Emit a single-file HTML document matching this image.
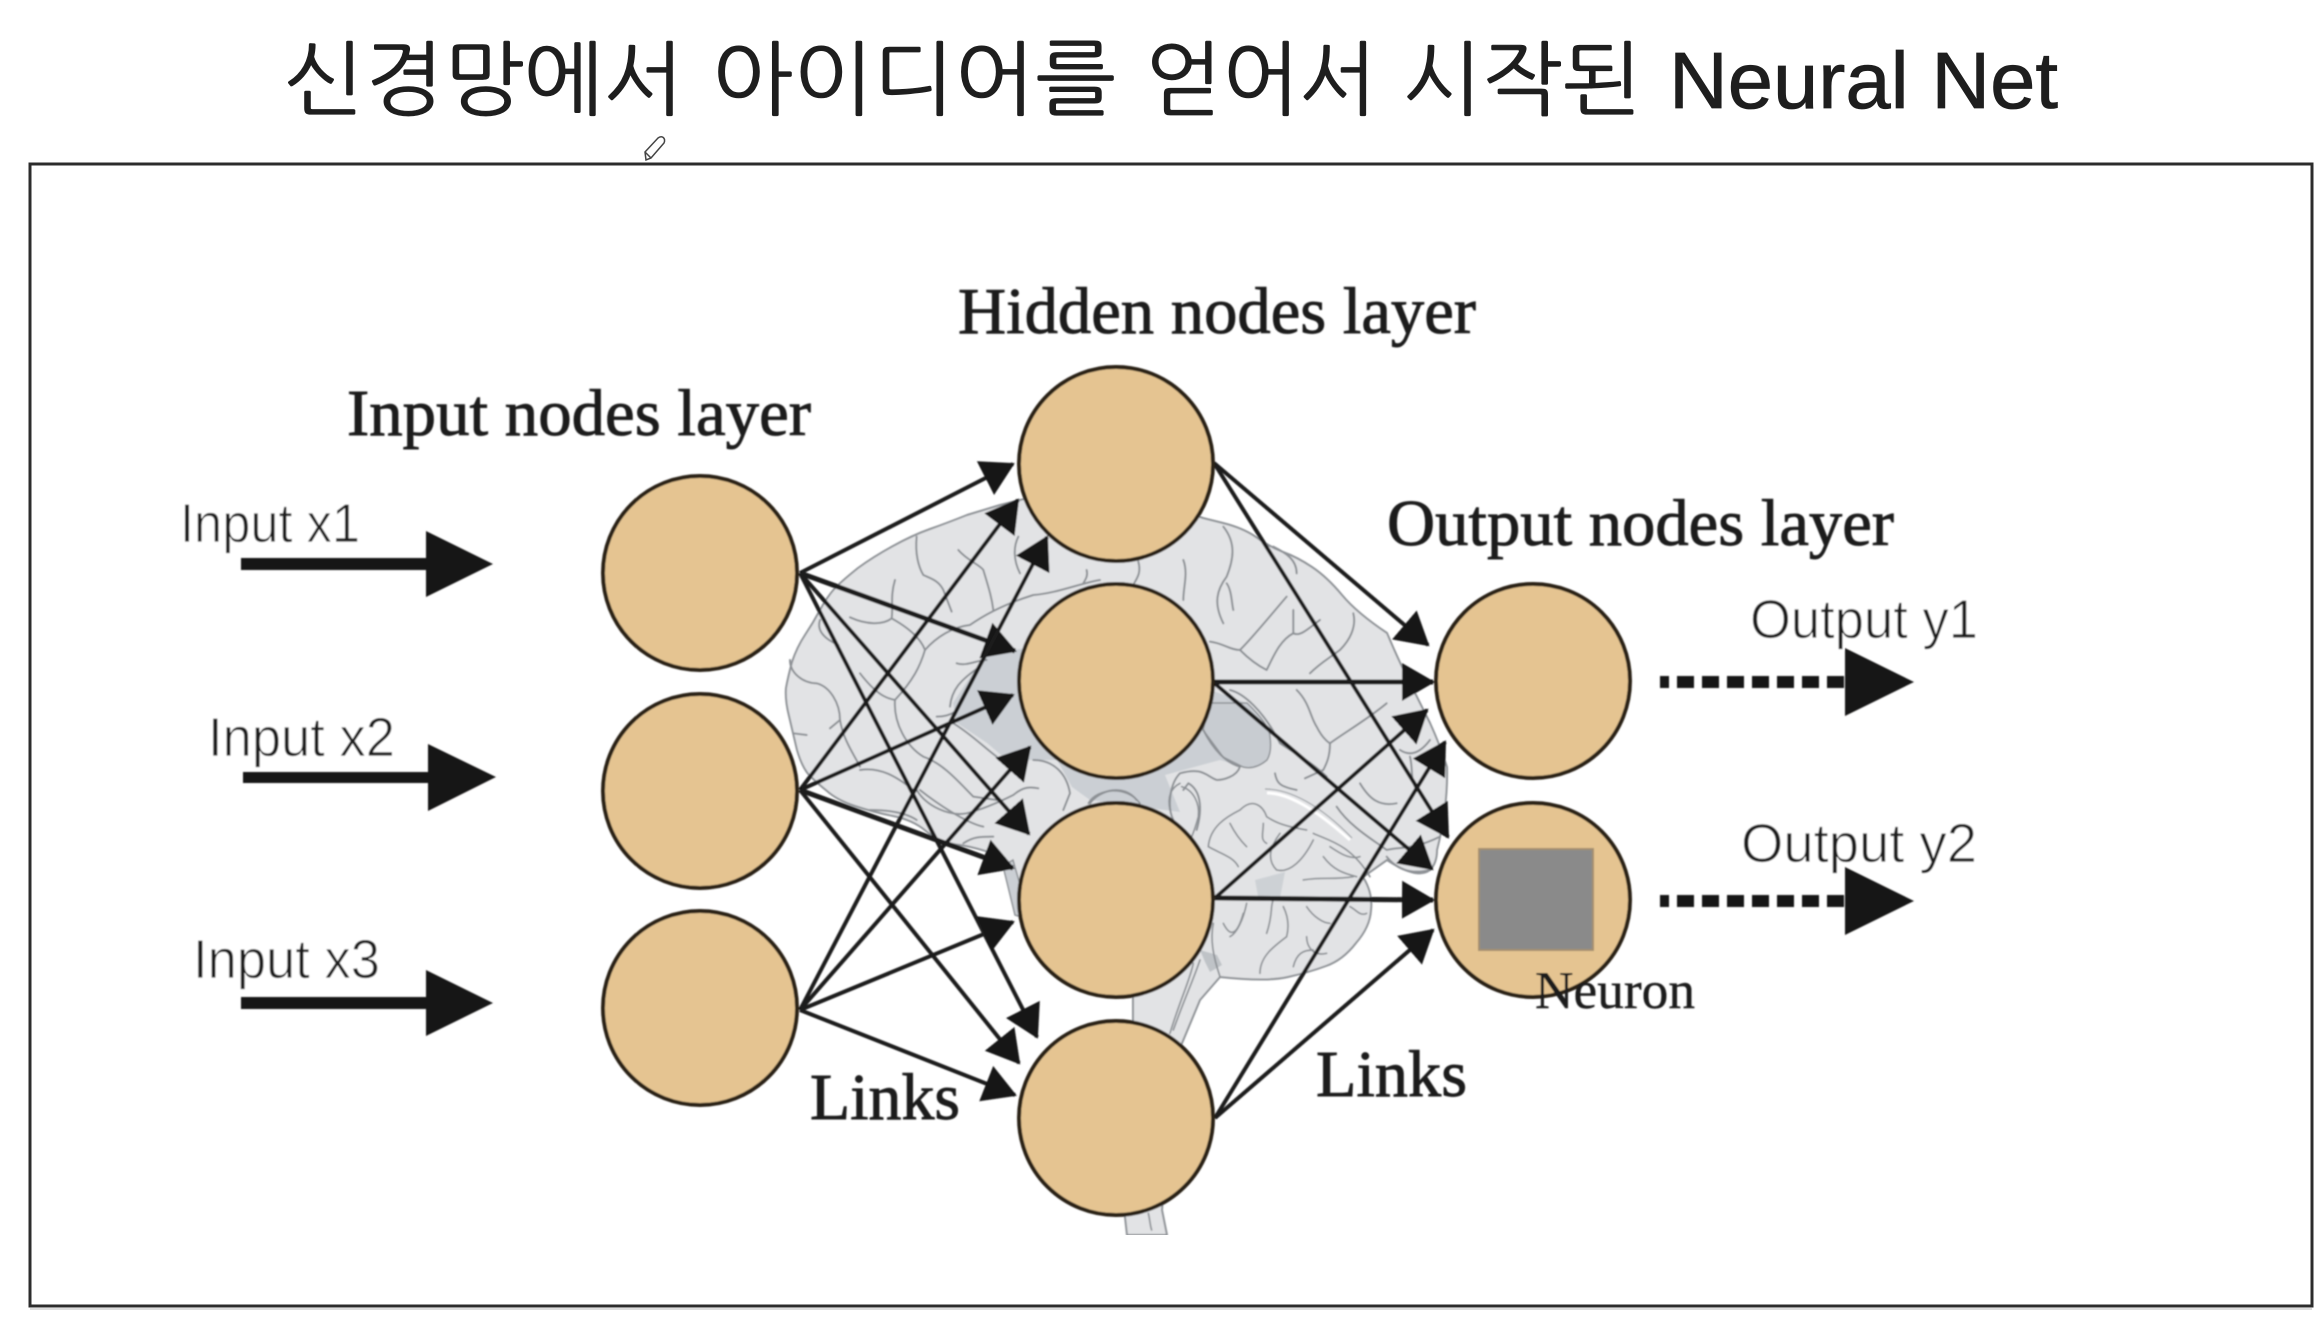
<!DOCTYPE html>
<html><head><meta charset="utf-8"><style>html,body{margin:0;padding:0;background:#fff}svg{display:block}</style></head>
<body>
<svg xmlns="http://www.w3.org/2000/svg" width="2322" height="1326" viewBox="0 0 2322 1326">
<defs>
<marker id="a" markerUnits="userSpaceOnUse" markerWidth="36" markerHeight="40" refX="31" refY="19" orient="auto"><path d="M0,0 L33,19 L0,38 Z" fill="#151515"/></marker>
<filter id="s" x="0" y="0" width="100%" height="100%"><feGaussianBlur stdDeviation="0.7"/></filter>
</defs>
<rect width="2322" height="1326" fill="#fff"/>

<g fill="#1e1e1e" stroke="#1e1e1e" stroke-width="0.7" font-size="81" font-family="'NanumGothic','Noto Sans CJK KR','Liberation Sans',sans-serif">
<text x="284" y="108" textLength="400" lengthAdjust="spacingAndGlyphs">신경망에서</text>
<text x="712" y="108" textLength="404" lengthAdjust="spacingAndGlyphs">아이디어를</text>
<text x="1145" y="108" textLength="232" lengthAdjust="spacingAndGlyphs">얻어서</text>
<text x="1402" y="108" textLength="240" lengthAdjust="spacingAndGlyphs">시작된</text>
</g>
<text x="1669" y="108" font-size="80" fill="#1e1e1e" stroke="#1e1e1e" stroke-width="0.8" font-family="'Liberation Sans',sans-serif" textLength="389" lengthAdjust="spacingAndGlyphs">Neural Net</text>

<path d="M646,160 L645,152 L658,138 C662,135 666,138 664,143 L651,158 Z M645,152 L651,158" fill="#fff" stroke="#444" stroke-width="1.5"/>

<rect x="30" y="164" width="2282" height="1142" fill="#fff" stroke="#2c2c2c" stroke-width="3"/>
<line x1="30" y1="1309" x2="2312" y2="1309" stroke="#ddd" stroke-width="2"/>

<g filter="url(#s)">
<!-- brain body -->
<path d="M1000,505 L967,515 Q947,523 930,529 Q913,535 893,546 Q873,557 858,568 Q843,580 835,588 Q827,597 820,610 Q813,623 805,635 Q797,647 792,662 Q788,677 786,688 Q785,700 789,716 Q793,733 797,750 Q802,767 809,775 Q817,783 827,791 Q837,800 855,806 Q873,812 893,816 Q913,820 926,831 Q940,843 960,845 Q980,848 1005,858 L1005,873 L1017,905 L1060,960 L1133,997 L1133,1030 L1125,1217 L1127,1235 L1167,1235 L1162,1210 L1175,1060 L1200,1000 L1220,977 Q1267,982 1288,977 Q1310,972 1326,966 Q1343,960 1356,943 Q1370,927 1371,910 Q1373,893 1363,877 L1387,860 Q1417,880 1430,870 Q1437,863 1437,850 Q1448,807 1447,767 Q1440,745 1430,723 Q1417,697 1407,677 Q1397,657 1387,633 Q1357,613 1342,595 Q1327,577 1312,567 Q1297,557 1283,552 Q1270,547 1256,537 Q1243,528 1223,523 L1203,518 L1100,480 Z" fill="#e2e3e5" stroke="#8f9397" stroke-width="2" stroke-linejoin="round"/>
<!-- darker areas -->
<path d="M983,657 L953,703 L957,723 L987,743 L1007,760 L1057,760 L1072,787 L1090,800 L1180,812 L1165,775 L1220,760 L1243,767 L1267,760 L1270,737 L1247,703 L1210,690 L1100,640 L1010,650 Z" fill="#cbcfd4"/>
<path d="M1003,866 L1013,860 L1030,920 L1015,915 Z" fill="#cbcfd4" stroke="#8f9397" stroke-width="1.5"/>
<path d="M1210,703 L1247,703 Q1270,725 1270,737 Q1272,752 1267,760 Q1255,770 1243,767 L1223,757 L1203,730 Z" fill="#c8ccd1" stroke="#8f9397" stroke-width="1.5"/>
<path d="M1255,880 L1285,872 L1280,898 L1258,896 Z" fill="#cdd1d5"/>
<path d="M1200,950 L1217,955 L1222,965 L1210,972 L1205,962 Z" fill="#bfc3c7"/>

<g fill="none" stroke="#8d9195" stroke-linecap="round" stroke-linejoin="round">
<g transform="translate(780,490) scale(.3333)" stroke-width="6">
<path d="M410,140 C405,190 415,230 430,255 C450,265 475,270 490,300 L515,365"/>
<path d="M535,180 C560,210 600,225 610,240 C625,290 635,320 640,360"/>
<path d="M345,270 C330,320 340,350 335,385 C310,405 260,405 210,382"/>
<path d="M120,390 C110,420 130,445 175,465"/>
<path d="M335,385 C380,410 420,440 435,480 C420,530 400,570 345,630 C320,625 290,615 240,550"/>
<path d="M435,480 C470,440 520,410 570,405 C620,370 680,340 760,315 C830,310 900,280 960,270"/>
<path d="M30,510 C30,550 70,580 110,580 C150,590 180,640 180,690 L150,715"/>
<path d="M40,730 L80,735"/>
<path d="M180,690 C190,750 220,790 240,830"/>
<path d="M345,630 C340,700 380,770 430,800 C490,820 540,880 580,920 L650,930"/>
<path d="M410,900 C440,950 510,980 560,970 C600,960 640,945 700,915 C730,890 750,890 775,895"/>
<path d="M530,520 C560,530 590,510 620,510"/>
<path d="M715,140 C700,170 700,210 720,250"/>
<path d="M510,650 C515,600 540,570 600,530"/>
<path d="M470,680 C490,680 510,675 525,665"/>
<path d="M520,700 C570,730 610,770 650,800"/>
<path d="M760,810 C820,810 860,850 870,910 L850,960"/>
<path d="M920,240 C925,260 915,270 910,280"/>
<path d="M1075,215 C1085,250 1070,265 1060,285"/>
<path d="M930,940 C960,900 1030,880 1070,930"/>
<path d="M550,1060 C580,1040 600,1040 640,1040"/>
<path d="M270,960 C330,960 380,970 410,990"/>
<path d="M420,900 C470,940 560,1000 610,1010"/>
<path d="M240,840 C300,830 350,860 400,900"/>
</g>
<g transform="translate(1100,490) scale(.3333)" stroke-width="6">
<path d="M250,210 C265,250 250,290 250,330"/>
<path d="M370,110 C410,160 400,210 380,260 C350,300 340,340 370,400"/>
<path d="M380,280 C395,300 395,340 400,360"/>
<path d="M330,455 C370,460 390,480 420,480 C460,440 500,390 560,320"/>
<path d="M420,480 C450,510 480,530 500,540 C520,500 540,450 580,430 L580,360"/>
<path d="M580,430 C600,440 620,420 660,390"/>
<path d="M520,170 C560,190 590,210 590,250"/>
<path d="M760,370 C770,410 750,450 720,480 C680,510 660,520 630,550"/>
<path d="M590,600 C630,640 630,680 650,710 C670,750 690,760 690,760 C730,730 800,690 860,640"/>
<path d="M690,760 C690,800 680,820 670,840 L615,865"/>
<path d="M390,600 C430,610 490,660 540,760 C600,800 640,820 680,860"/>
<path d="M310,720 C340,780 380,820 420,830 C410,860 370,870 350,870 C320,860 310,830 240,850 C210,880 200,950 220,990"/>
<path d="M250,900 L265,880 C300,900 310,950 290,1020"/>
<path d="M525,850 C530,880 540,890 590,900"/>
<path d="M780,880 C810,930 840,950 890,940"/>
<path d="M710,950 C750,1010 820,1050 860,1080 C900,1070 940,1080 1020,1040"/>
<path d="M900,780 C930,800 960,790 990,750"/>
<path d="M930,800 C940,840 930,870 950,900"/>
<path d="M860,1100 C900,1150 950,1150 990,1140"/>
</g>
<g transform="translate(960,780) scale(.3333)" stroke-width="5">
<path d="M745,200 C750,140 800,110 840,90 C880,50 910,80 920,110 C950,130 980,140 1040,150"/>
<path d="M810,130 C830,170 850,190 860,200"/>
<path d="M745,200 C780,220 820,230 835,260"/>
<path d="M910,130 C910,160 900,180 920,190"/>
<path d="M960,160 C930,200 920,240 950,270 C990,280 1030,240 1060,180"/>
<path d="M1030,300 C1090,290 1120,300 1180,290"/>
<path d="M1090,230 C1120,270 1150,280 1190,290"/>
<path d="M1110,200 C1140,220 1170,240 1200,230"/>
<path d="M1060,160 C1100,180 1170,190 1230,290"/>
<path d="M790,430 C810,470 830,470 850,400"/>
<path d="M860,370 C850,420 830,460 810,470"/>
<path d="M920,460 C940,400 930,380 940,360"/>
<path d="M900,580 C900,530 940,500 980,470 C990,430 980,400 970,380"/>
<path d="M1040,380 C1060,410 1090,430 1110,430"/>
<path d="M1100,520 C1060,530 1040,500 1040,470"/>
<path d="M1170,380 C1190,390 1200,410 1220,400"/>
<path d="M1000,560 C1010,520 1030,510 1060,510"/>
<path d="M720,540 C700,600 680,640 640,750"/>
<path d="M700,550 C690,600 660,660 630,760"/>
<path d="M565,1300 C570,1320 570,1335 575,1350"/>
<path d="M385,70 C410,25 500,15 540,70"/>
<path d="M630,90 C620,40 640,20 660,10"/>
<path d="M665,20 C700,30 720,70 715,110 C710,130 700,160 695,170"/>
<path d="M780,590 C760,530 750,480 760,430"/>
</g>
</g>
<path d="M1267,793 C1287,793 1313,807 1350,840" fill="none" stroke="#fff" stroke-width="3"/>
<path d="M1265,789 C1290,789 1320,805 1352,838" fill="none" stroke="#a0a4a8" stroke-width="1.2"/>

<!-- connectors -->
<g fill="none" stroke="#1a1a1a" stroke-width="4">
<line x1="800" y1="573" x2="1013" y2="464" marker-end="url(#a)"/>
<line x1="800" y1="573" x2="1015" y2="651" marker-end="url(#a)" stroke-width="5"/>
<line x1="800" y1="573" x2="1029" y2="834" marker-end="url(#a)"/>
<line x1="800" y1="573" x2="1037" y2="1037" marker-end="url(#a)"/>
<line x1="800" y1="790" x2="1018" y2="500" marker-end="url(#a)"/>
<line x1="800" y1="790" x2="1013" y2="695" marker-end="url(#a)"/>
<line x1="800" y1="790" x2="1013" y2="868" marker-end="url(#a)" stroke-width="5"/>
<line x1="800" y1="790" x2="1019" y2="1063" marker-end="url(#a)"/>
<line x1="800" y1="1010" x2="1047" y2="537" marker-end="url(#a)"/>
<line x1="800" y1="1010" x2="1030" y2="747" marker-end="url(#a)"/>
<line x1="800" y1="1010" x2="1013" y2="922" marker-end="url(#a)"/>
<line x1="800" y1="1010" x2="1015" y2="1095" marker-end="url(#a)"/>
<line x1="1214" y1="463" x2="1428" y2="645" marker-end="url(#a)"/>
<line x1="1214" y1="463" x2="1448" y2="837" marker-end="url(#a)"/>
<line x1="1213" y1="682" x2="1433" y2="682" marker-end="url(#a)" stroke-width="5"/>
<line x1="1213" y1="682" x2="1432" y2="869" marker-end="url(#a)"/>
<line x1="1215" y1="898" x2="1427" y2="710" marker-end="url(#a)"/>
<line x1="1215" y1="898" x2="1433" y2="900" marker-end="url(#a)" stroke-width="5"/>
<line x1="1215" y1="1118" x2="1445" y2="742" marker-end="url(#a)"/>
<line x1="1215" y1="1118" x2="1433" y2="930" marker-end="url(#a)"/>
</g>

<!-- nodes -->
<g fill="#e5c491" stroke="#2a2218" stroke-width="4">
<circle cx="700" cy="573" r="97"/>
<circle cx="700" cy="791" r="97"/>
<circle cx="700" cy="1008" r="97"/>
<circle cx="1116" cy="464" r="97"/>
<circle cx="1116" cy="681" r="97"/>
<circle cx="1116" cy="900" r="97"/>
<circle cx="1116" cy="1118" r="97"/>
<circle cx="1533" cy="681" r="97"/>
<circle cx="1533" cy="900" r="97"/>
</g>
<rect x="1479" y="849" width="114" height="101" fill="#8a8a8a" stroke="#a48f6f" stroke-width="2"/>

<!-- big arrows -->
<g fill="#181514">
<path d="M241,558 H426 V531 L493,564 L426,597 V570 H241 Z"/>
<path d="M243,772 H428 V744 L496,777 L428,811 V783 H243 Z"/>
<path d="M241,997 H426 V970 L493,1003 L426,1036 V1009 H241 Z"/>
<path d="M1845,648 L1914,682 L1845,716 Z"/>
<path d="M1845,867 L1914,901 L1845,935 Z"/>
</g>
<g fill="none" stroke="#181514" stroke-width="12" stroke-dasharray="17 8" stroke-dashoffset="8">
<line x1="1660" y1="682" x2="1844" y2="682"/>
<line x1="1660" y1="901" x2="1844" y2="901"/>
</g>

<!-- labels -->
<g font-family="'Liberation Serif',serif" font-size="66" fill="#1c1c1c" stroke="#1c1c1c" stroke-width="0.9">
<text x="347" y="435" textLength="464" lengthAdjust="spacingAndGlyphs">Input nodes layer</text>
<text x="958" y="333" textLength="518" lengthAdjust="spacingAndGlyphs">Hidden nodes layer</text>
<text x="1387" y="545" textLength="507" lengthAdjust="spacingAndGlyphs">Output nodes layer</text>
<text x="810" y="1119" textLength="150" lengthAdjust="spacingAndGlyphs">Links</text>
<text x="1316" y="1096" textLength="151" lengthAdjust="spacingAndGlyphs">Links</text>
<text x="1535" y="1008" font-size="53" stroke-width="0.4" textLength="160" lengthAdjust="spacingAndGlyphs">Neuron</text>
</g>
<g font-family="'Liberation Sans',sans-serif" font-size="55" fill="#1a1a1a" stroke="#fff" stroke-width="0.8">
<text x="180" y="542" textLength="180" lengthAdjust="spacingAndGlyphs">Input x1</text>
<text x="208" y="756" textLength="187" lengthAdjust="spacingAndGlyphs">Input x2</text>
<text x="193" y="978" textLength="187" lengthAdjust="spacingAndGlyphs">Input x3</text>
<text x="1750" y="638" textLength="228" lengthAdjust="spacingAndGlyphs">Output y1</text>
<text x="1741" y="862" textLength="236" lengthAdjust="spacingAndGlyphs">Output y2</text>
</g>
</g>
</svg>
</body></html>
